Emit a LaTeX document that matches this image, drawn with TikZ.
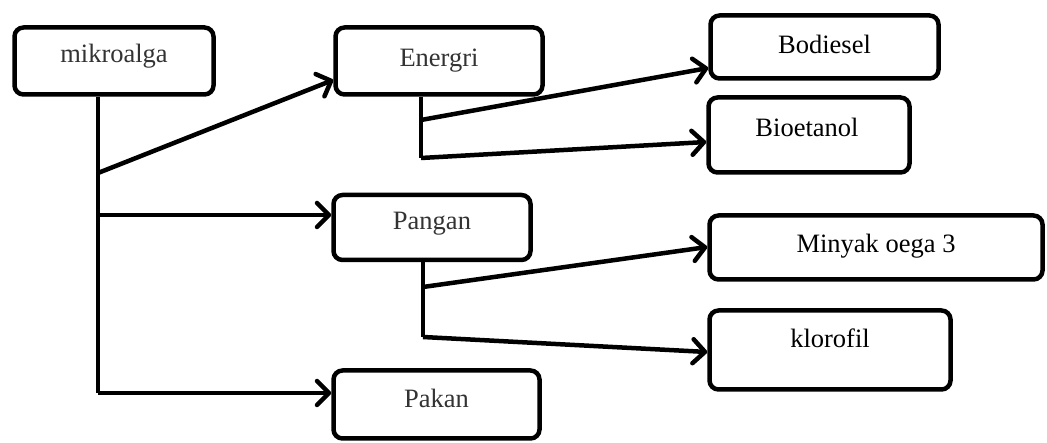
\documentclass[tikz,border=0pt]{standalone}
\usepackage{fontspec}
\setmainfont{Liberation Serif}
\usetikzlibrary{arrows.meta}
\begin{document}
\begin{tikzpicture}[x=1pt,y=-1pt,
  box/.style={draw=black, line width=4.5pt, rounded corners=9pt, fill=white, inner sep=0pt},
  lbl/.style={font=\fontsize{26.5}{30}\selectfont, inner sep=0pt, anchor=base},
  lbldim/.style={lbl, text=black!80},
  conn/.style={line width=4.5pt, draw=black},
  arr/.style={conn, -{Straight Barb[length=12pt,width=24pt,line cap=round,line join=round]}}
]
\useasboundingbox (0,0) rectangle (1047,443);
% boxes
\node[box, minimum width=199pt, minimum height=67pt] (mik) at (114,61) {};
\node[box, minimum width=207pt, minimum height=67pt] (ene) at (439,61) {};
\node[box, minimum width=228pt, minimum height=63pt] (bod) at (824.5,47) {};
\node[box, minimum width=201pt, minimum height=75pt] (bio) at (809,135) {};
\node[box, minimum width=197pt, minimum height=65pt] (pan) at (432,227.5) {};
\node[box, minimum width=333pt, minimum height=64pt] (min) at (876,247.5) {};
\node[box, minimum width=241pt, minimum height=79pt] (klo) at (830,350) {};
\node[box, minimum width=206pt, minimum height=68pt] (pak) at (436.5,404.5) {};
% labels
\node[lbldim, yshift=-2pt] (tmik) at (mik.center) {mikroalga};
\node[lbldim, yshift=-6pt] (tene) at (ene.center) {Energri};
\node[lbl, yshift=-7pt] (tbod) at (bod.center) {Bodiesel};
\node[lbl, yshift=-2pt, xshift=-2pt] (tbio) at (bio.center) {Bioetanol};
\node[lbldim, yshift=-2pt] (tpan) at (pan.center) {Pangan};
\node[lbl, yshift=-5.5pt] (tmin) at (min.center) {Minyak oega 3};
\node[lbl, yshift=2pt] (tklo) at (klo.center) {klorofil};
\node[lbldim, yshift=-3.5pt] (tpak) at (pak.center) {Pakan};
% branch points
\coordinate (m1) at (98,173);
\coordinate (m2) at (98,215);
\coordinate (m3) at (98,393);
\coordinate (e1) at (421,120);
\coordinate (e2) at (421,158);
\coordinate (p1) at (423,287);
\coordinate (p2) at (423,337);
% trunks
\draw[conn] (mik.south -| m3) -- (m3);
\draw[conn] (ene.south -| e2) -- (e2);
\draw[conn] (pan.south -| p2) -- (p2);
% arrows
\draw[arr] (m1) -- (ene.west |- 0,80);
\draw[arr] (m2) -- (pan.west |- m2);
\draw[arr] (m3) -- (pak.west |- m3);
\draw[arr] (e1) -- (bod.west |- 0,68);
\draw[arr] (e2) -- (bio.west |- 0,142);
\draw[arr] (p1) -- (min.west |- 0,247);
\draw[arr] (p2) -- (klo.west |- 0,352);
\end{tikzpicture}
\end{document}
